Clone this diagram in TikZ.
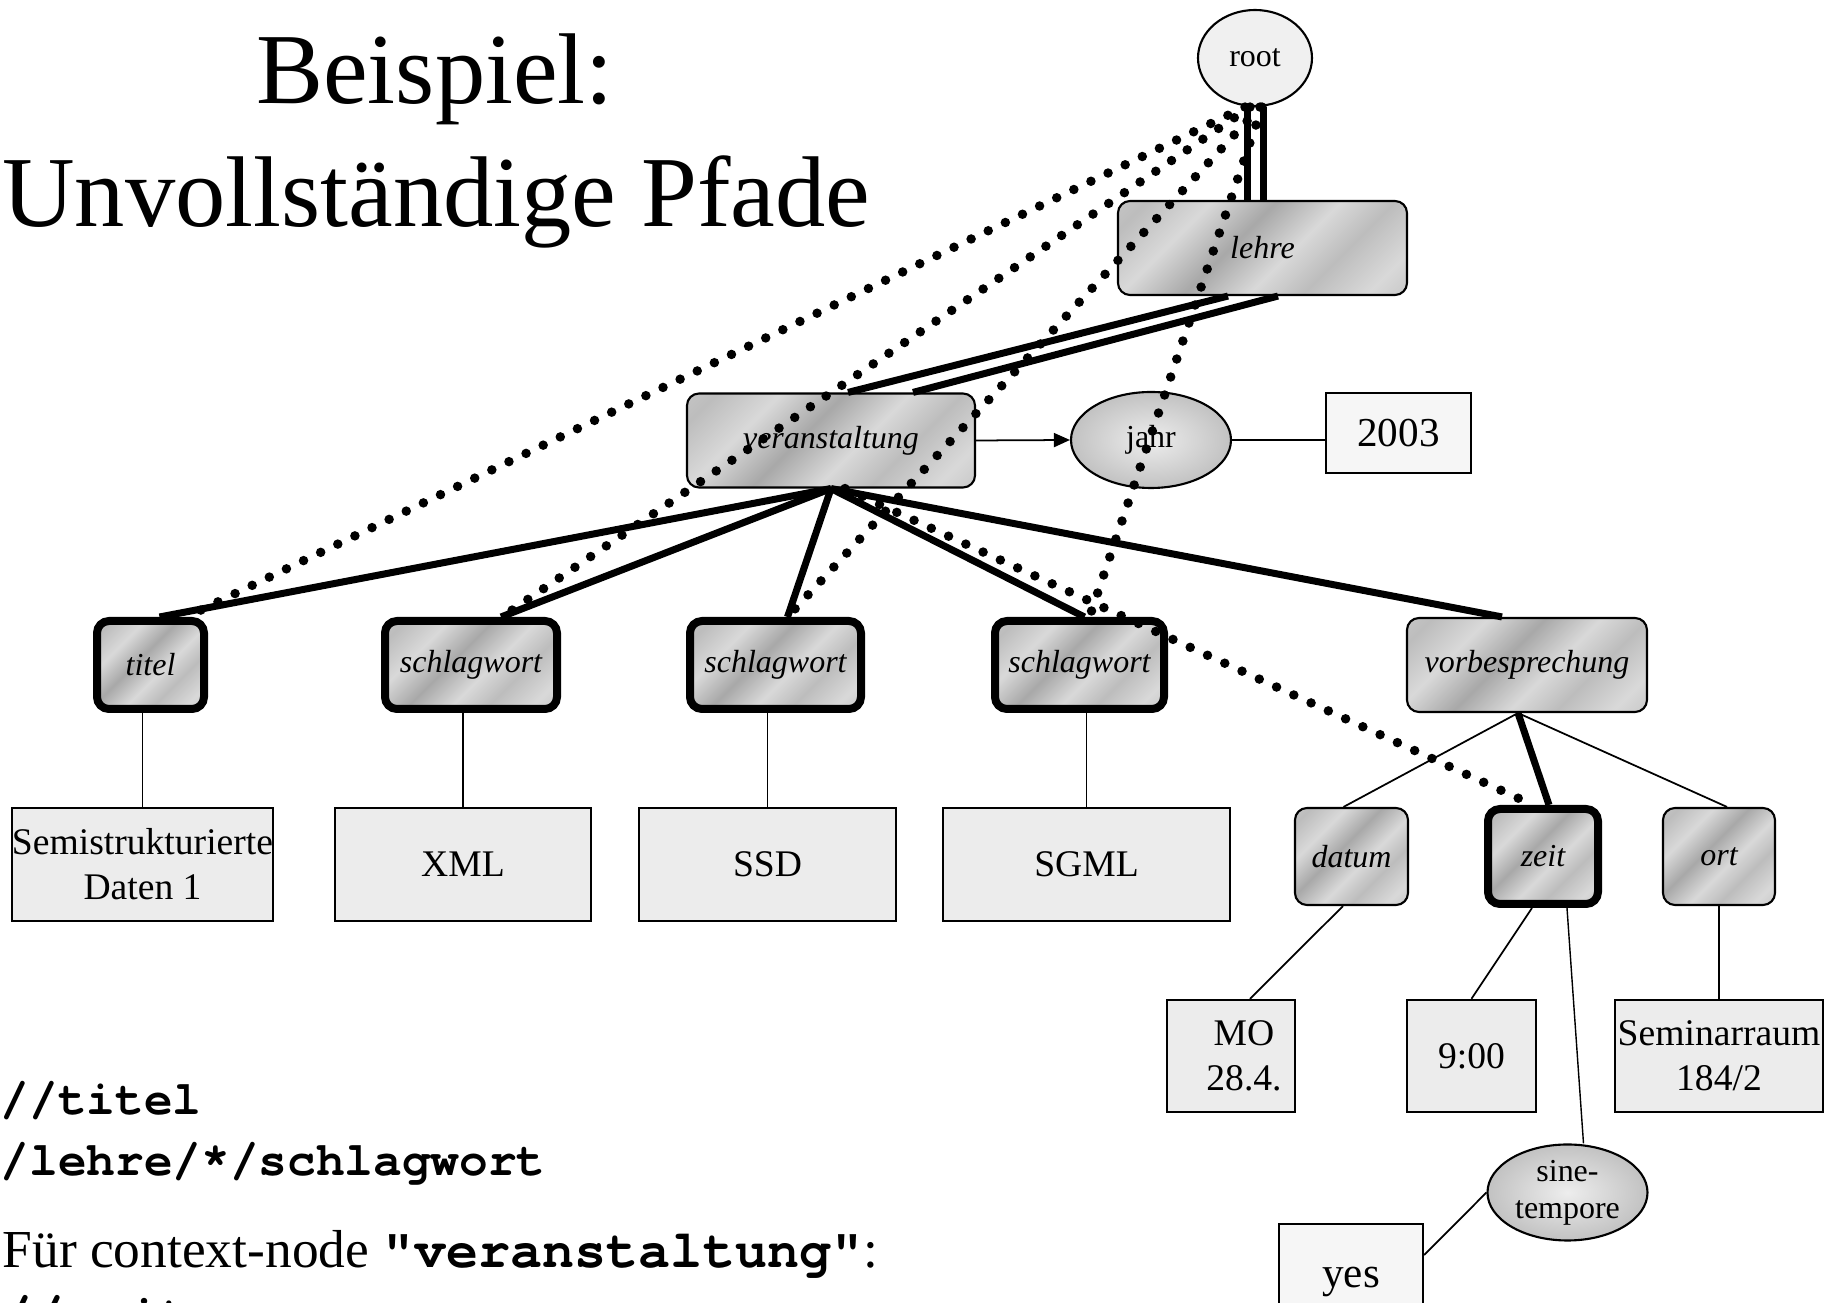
\documentclass[tikz,border=0pt]{standalone}
\usepackage{fontspec}
\setmainfont{Liberation Serif}
\setmonofont{Liberation Mono}
\newfontfamily\codefont{texgyrecursor-bold.otf}
\usetikzlibrary{shapes.geometric, arrows.meta}

\definecolor{metaldark}{gray}{0.66}
\definecolor{metalmid}{gray}{0.74}
\definecolor{metallight}{gray}{0.85}
\definecolor{valgray}{gray}{0.925}
\definecolor{rootgray}{gray}{0.94}
\definecolor{boxwhite}{gray}{0.965}
\definecolor{attrin}{gray}{0.93}
\definecolor{attrout}{gray}{0.76}

\pgfdeclareverticalshading{metal}{100bp}{color(0bp)=(metaldark); color(22bp)=(metallight); color(34bp)=(metalmid); color(44bp)=(metallight); color(56bp)=(metaldark); color(68bp)=(metallight); color(80bp)=(metalmid); color(100bp)=(metallight)}

\tikzset{
  elem/.style={draw, rounded corners=0.12cm, line width=0.6pt, shading=metal, shading angle=45,
    font=\fontsize{9.1}{11}\selectfont\itshape, minimum height=0.94cm, inner sep=0pt},
  hit/.style={elem, line width=0.08cm, minimum height=0.88cm},
  val/.style={draw, fill=valgray, line width=0.7pt, align=center, inner sep=0pt,
    minimum height=1.13cm, font=\fontsize{10.7}{12.8}\selectfont},
  attr/.style={ellipse, draw, line width=0.6pt, inner color=attrin, outer color=attrout, inner sep=0pt,
    minimum width=1.6cm, minimum height=0.96cm, align=center, font=\fontsize{9.1}{10.5}\selectfont},
  edge/.style={line width=0.5pt},
  tree/.style={line width=0.07cm},
  query/.style={line width=0.095cm, dash pattern=on 0pt off 0.19cm, line cap=round},
  code/.style={anchor=base west, inner sep=0pt, font=\fontsize{13.6}{16}\selectfont\codefont},
}

\begin{document}
\begin{tikzpicture}
\useasboundingbox (0,0) rectangle (18.32,-13.03);

% title
\node[font=\fontsize{28.6}{34}\selectfont, anchor=base, inner sep=0pt] (head1) at (4.35,-1.04) {Beispiel:};
\node[font=\fontsize{28.6}{34}\selectfont, anchor=base west, inner sep=0pt] (head2) at (0.015,-2.27) {Unvollständige Pfade};

% document tree
\node[ellipse, draw, line width=0.6pt, fill=rootgray, minimum width=1.14cm, minimum height=0.96cm,
  inner sep=0pt, font=\fontsize{9.1}{11}\selectfont] (root) at (12.55,-0.58) {root};
\node[elem, minimum width=2.89cm] (lehre) at (12.625,-2.48) {lehre};
\node[elem, minimum width=2.88cm] (veranst) at (8.31,-4.405) {veranstaltung};
\node[attr] (jahr) at (11.51,-4.40) {jahr};
\node[draw, fill=boxwhite, line width=0.7pt, minimum width=1.45cm, minimum height=0.8cm,
  font=\fontsize{11.7}{14}\selectfont] (y2003) at (13.985,-4.33) {2003};

\node[hit, minimum width=1.07cm] (titel) at (1.505,-6.65) {titel};
\node[hit, minimum width=1.72cm] (sw1) at (4.71,-6.65) {schlagwort};
\node[hit, minimum width=1.71cm] (sw2) at (7.755,-6.65) {schlagwort};
\node[hit, minimum width=1.69cm] (sw3) at (10.795,-6.65) {schlagwort};
\node[elem, minimum width=2.40cm] (vorb) at (15.27,-6.65) {vorbesprechung};

\node[val, minimum width=2.57cm] (sem) at (1.425,-8.645) {Semistrukturierte\\Daten 1};
\node[val, minimum width=2.56cm] (xml) at (4.63,-8.645) {XML};
\node[val, minimum width=2.57cm] (ssd) at (7.675,-8.645) {SSD};
\node[val, minimum width=2.87cm] (sgml) at (10.865,-8.645) {SGML};

\node[elem, minimum width=1.13cm, minimum height=0.97cm] (datum) at (13.515,-8.565) {datum};
\node[hit, minimum width=1.10cm, minimum height=0.95cm] (zeit) at (15.43,-8.565) {zeit};
\node[elem, minimum width=1.12cm, minimum height=0.97cm] (ort) at (17.19,-8.565) {ort};

\node[val, minimum width=1.28cm, minimum height=1.12cm] (mo) at (12.31,-10.56) {\hspace*{0.26cm}MO\\\hspace*{0.26cm}28.4.};
\node[val, minimum width=1.29cm, minimum height=1.12cm] (nine) at (14.715,-10.56) {9:00};
\node[val, minimum width=2.08cm, minimum height=1.12cm] (room) at (17.19,-10.56) {Seminarraum\\184/2};

\node[attr] (sine) at (15.675,-11.925) {sine-\\tempore};
\node[draw, fill=boxwhite, line width=0.7pt, minimum width=1.44cm, minimum height=1.16cm,
  font=\fontsize{12.3}{14}\selectfont] (yes) at (13.51,-12.82) {yes};

% plain edges
\draw[edge] (sem.north) -- (sem.north |- titel.south);
\draw[edge] (xml.north) -- (xml.north |- sw1.south);
\draw[edge] (ssd.north) -- (ssd.north |- sw2.south);
\draw[edge] (sgml.north) -- (sgml.north |- sw3.south);
\draw[edge] ([xshift=-0.09cm]vorb.south) -- ([xshift=-0.08cm]datum.north);
\draw[edge] ([xshift=-0.09cm]vorb.south) -- ([xshift=0.08cm]ort.north);
\draw[edge] ([xshift=-0.085cm]datum.south) -- ([xshift=0.19cm]mo.north);
\draw[edge] ([xshift=-0.11cm]zeit.south) -- (nine.north);
\draw[line width=0.4pt] ([xshift=0.24cm]zeit.south) -- ([xshift=0.16cm]sine.north);
\draw[edge] (ort) -- (room);
\draw[edge] (sine.west) -- ([yshift=0.27cm]yes.east);
\draw[edge, -{Triangle[length=0.16cm, width=0.14cm]}] (veranst.east) -- (jahr.west);
\draw[edge] (jahr.east) -- (jahr.east -| y2003.west);

% matched paths
\draw[tree] ([xshift=-0.08cm]root.south) -- ([xshift=-0.08cm]root.south |- lehre.north);
\draw[tree] ([xshift=0.08cm]root.south) -- ([xshift=0.08cm]root.south |- lehre.north);
\draw[tree] ([xshift=-0.345cm]lehre.south) -- ([xshift=0.17cm]veranst.north);
\draw[tree] ([xshift=0.155cm]lehre.south) -- ([xshift=0.82cm]veranst.north);
\draw[tree] (veranst.south) -- ([xshift=0.09cm]titel.north);
\draw[tree] (veranst.south) -- ([xshift=0.3cm]sw1.north);
\draw[tree] (veranst.south) -- ([xshift=0.12cm]sw2.north);
\draw[tree] (veranst.south) -- ([xshift=0.05cm]sw3.north);
\draw[tree] (veranst.south) -- ([xshift=-0.25cm]vorb.north);
\draw[tree] ([xshift=-0.09cm]vorb.south) -- ([xshift=0.06cm]zeit.north);

% incomplete paths
\draw[query] ([xshift=-0.1cm]root.south) -- ([xshift=0.36cm]titel.north);
\draw[query] ([xshift=-0.05cm]root.south) -- ([xshift=0.31cm]sw1.north);
\draw[query] ([xshift=0.05cm]root.south) -- ([xshift=0.12cm]sw2.north);
\draw[query] ([xshift=0.07cm]root.south) -- ([xshift=0.1cm]sw3.north);
\draw[query] ([xshift=0.14cm]veranst.south) -- ([xshift=-0.1cm]zeit.north);

% queries
\node[code] (q1) at (0,-11.15) {//titel};
\node[code] (q2) at (0,-11.76) {/lehre/*/schlagwort};
\node[anchor=base west, inner sep=0pt, font=\fontsize{15.2}{18}\selectfont] (q3) at (0.02,-12.68)
  {Für context-node {\codefont "veranstaltung"}:};
\node[code, font=\fontsize{15.2}{18}\selectfont\codefont] (q4) at (0,-13.33) {//zeit};
\end{tikzpicture}
\end{document}
